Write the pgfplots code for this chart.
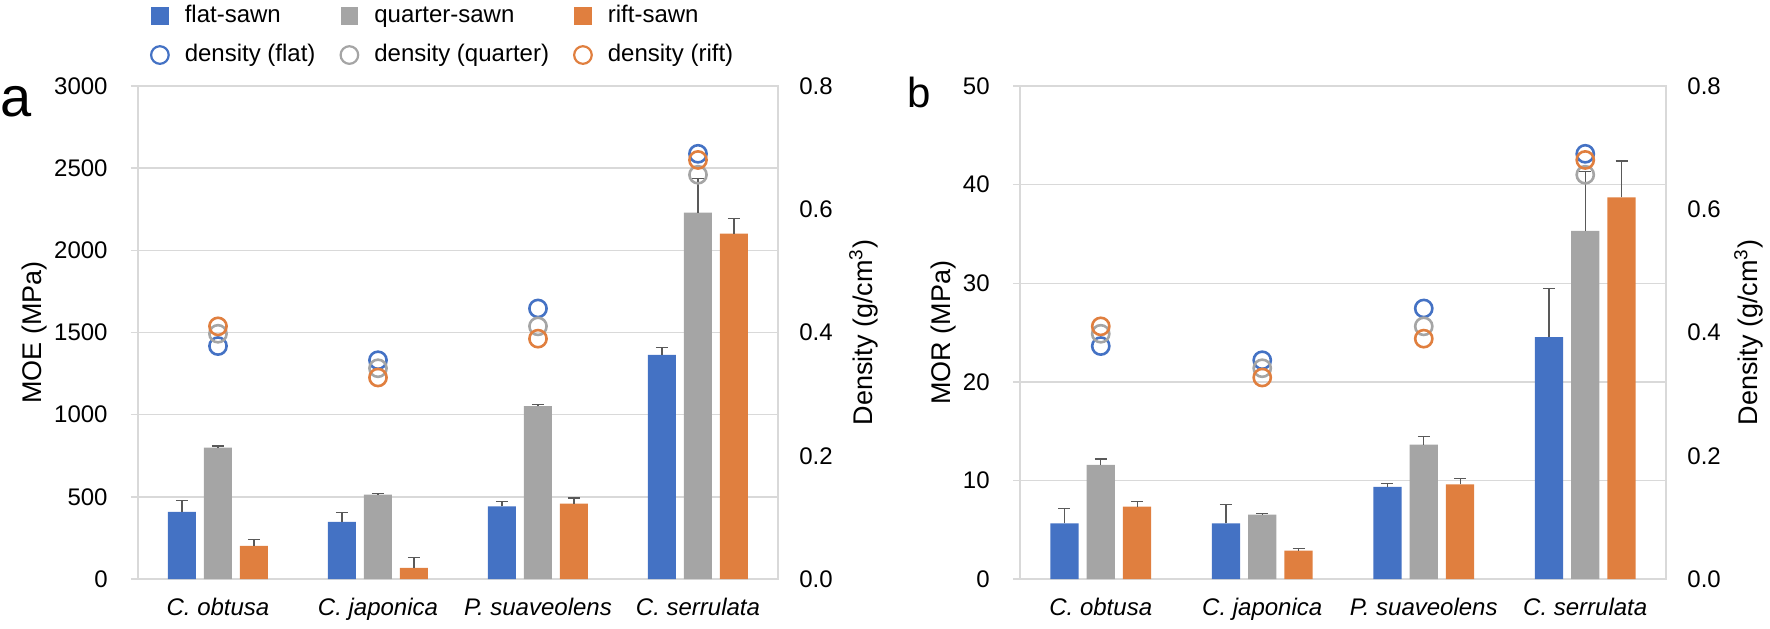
\documentclass[border=0pt]{standalone}
\usepackage{fontspec}
\setmainfont{Liberation Sans}
\usepackage{pgfplots}
\usepackage{pgfplotstable}
\pgfplotsset{compat=1.18}
\definecolor{cblue}{HTML}{4472C4}
\definecolor{cgray}{HTML}{A5A5A5}
\definecolor{corange}{HTML}{E07F3F}
\definecolor{gridc}{HTML}{D9D9D9}
\definecolor{errc}{HTML}{595959}

\pgfplotstableread{
x flat flatE quart quartE rift riftE
0 408 70 799 10 202 40
1 348 58 514 4 68 64
2 442 30 1052 10 459 34
3 1364 45 2229 210 2101 94
}\moe
\pgfplotstableread{
x flat flatE quart quartE rift riftE
0 5.63 1.5 11.58 0.6 7.33 0.5
1 5.63 1.95 6.52 0.1 2.87 0.2
2 9.35 0.3 13.63 0.8 9.60 0.6
3 24.54 4.9 35.30 6.0 38.70 3.7
}\mor
\pgfplotstableread{
x dflat dquart drift
0 0.378 0.398 0.410
1 0.355 0.342 0.327
2 0.439 0.410 0.390
3 0.690 0.656 0.680
}\dens

\pgfplotsset{
  base/.style={
    scale only axis, height=246.5pt,
    xmin=-0.5, xmax=3.5,
    /pgf/number format/assume math mode=true,
    /pgf/number format/1000 sep={},
    tick label style={font=\fontsize{12}{14}\selectfont},
    label style={font=\fontsize{13.5}{16}\selectfont},
  },
  leftax/.style={
    base, ybar, bar width=0.175, ymin=0,
    axis line style={draw=gridc, line width=0.7pt},
    ymajorgrids, grid style={draw=gridc, line width=0.7pt},
    xtick={0,1,2,3},
    xticklabels={\textit{C. obtusa},\textit{C. japonica},\textit{P. suaveolens},\textit{C. serrulata}},
    xtick align=inside, x tick style={draw=none},
    xticklabel style={anchor=north, inner sep=0pt, yshift=-9.5pt},
    ytick pos=left, ytick align=outside, major tick length=3.5pt,
    y tick style={draw=gridc, line width=0.7pt},
    yticklabel style={anchor=east, inner sep=0pt, xshift=-11.5pt},
    error bars/y dir=plus, error bars/y explicit,
    error bars/error bar style={errc, line width=0.6pt},
    error bars/error mark options={rotate=90, errc, mark size=3pt, line width=0.6pt},
  },
  rightax/.style={
    base, ymin=0, ymax=0.8, ytick={0,0.2,0.4,0.6,0.8},
    axis x line=none, axis y line*=right,
    y axis line style={draw=none}, y tick style={draw=none},
    yticklabel style={anchor=west, inner sep=0pt, xshift=10.5pt,
      /pgf/number format/fixed, /pgf/number format/fixed zerofill, /pgf/number format/precision=1},
    ylabel={Density (g/cm\textsuperscript{3})},
  },
  dmark/.style={only marks, mark=o, mark size=4.3pt, line width=1.3pt, #1, mark options={solid}},
}

\begin{document}
\begin{tikzpicture}
\path[use as bounding box] (-69pt,-24.5pt) rectangle (816pt,289.5pt);

% ---------------- panel a ----------------
\begin{axis}[leftax, at={(0pt,0pt)}, anchor=south west, width=320pt,
  ymax=3000, ytick={0,500,1000,1500,2000,2500,3000},
  ylabel={MOE (MPa)},
  ylabel style={at={(axis description cs:-0.161,0.5)}, anchor=center, rotate=0},
  legend columns=3,
  legend style={at={(rel axis cs:0.01875,1.1663)}, anchor=north west, draw=none, fill=none,
    inner sep=0pt, outer sep=0pt, font=\fontsize{12}{14}\selectfont,
    nodes={inner sep=0pt, text height=9pt, text depth=3pt},
    row sep=7.5pt},
  legend cell align=left,
  /tikz/every odd column/.append style={column sep=7.5pt},
  /tikz/every even column/.append style={column sep=12pt},
]
\addlegendimage{legend image code/.code={\fill[cblue] (0pt,-4.2pt) rectangle (8.4pt,4.2pt);}}
\addlegendentry{flat-sawn}
\addlegendimage{legend image code/.code={\fill[cgray] (0pt,-4.2pt) rectangle (8.4pt,4.2pt);}}
\addlegendentry{quarter-sawn}
\addlegendimage{legend image code/.code={\fill[corange] (0pt,-4.2pt) rectangle (8.4pt,4.2pt);}}
\addlegendentry{rift-sawn}
\addlegendimage{legend image code/.code={\draw[cblue, line width=1.1pt] (4.2pt,0pt) circle (4.4pt);}}
\addlegendentry{density (flat)}
\addlegendimage{legend image code/.code={\draw[cgray, line width=1.1pt] (4.2pt,0pt) circle (4.4pt);}}
\addlegendentry{density (quarter)}
\addlegendimage{legend image code/.code={\draw[corange, line width=1.1pt] (4.2pt,0pt) circle (4.4pt);}}
\addlegendentry{density (rift)}
\addplot[fill=cblue, draw=none, bar shift=-0.225, forget plot] table[x=x, y=flat, y error=flatE] {\moe};
\addplot[fill=cgray, draw=none, bar shift=0, forget plot] table[x=x, y=quart, y error=quartE] {\moe};
\addplot[fill=corange, draw=none, bar shift=0.225, forget plot] table[x=x, y=rift, y error=riftE] {\moe};
\end{axis}
\begin{axis}[rightax, at={(0pt,0pt)}, anchor=south west, width=320pt,
  ylabel style={at={(axis description cs:1.134,0.5)}, anchor=center, rotate=0},
]
\addplot[dmark=cblue] table[x=x, y=dflat] {\dens};
\addplot[dmark=cgray] table[x=x, y=dquart] {\dens};
\addplot[dmark=corange] table[x=x, y=drift] {\dens};
\end{axis}

% ---------------- panel b ----------------
\begin{axis}[leftax, at={(441pt,0pt)}, anchor=south west, width=323pt,
  ymax=50, ytick={0,10,20,30,40,50},
  ylabel={MOR (MPa)},
  ylabel style={at={(axis description cs:-0.119,0.5)}, anchor=center, rotate=0},
]
\addplot[fill=cblue, draw=none, bar shift=-0.225] table[x=x, y=flat, y error=flatE] {\mor};
\addplot[fill=cgray, draw=none, bar shift=0] table[x=x, y=quart, y error=quartE] {\mor};
\addplot[fill=corange, draw=none, bar shift=0.225] table[x=x, y=rift, y error=riftE] {\mor};
\end{axis}
\begin{axis}[rightax, at={(441pt,0pt)}, anchor=south west, width=323pt,
  ylabel style={at={(axis description cs:1.128,0.5)}, anchor=center, rotate=0},
]
\addplot[dmark=cblue] table[x=x, y=dflat] {\dens};
\addplot[dmark=cgray] table[x=x, y=dquart] {\dens};
\addplot[dmark=corange] table[x=x, y=drift] {\dens};
\end{axis}

\node[anchor=base west, inner sep=0pt, font=\fontsize{28}{30}\selectfont] at (-69pt,231pt) {a};
\node[anchor=base west, inner sep=0pt, font=\fontsize{21}{24}\selectfont] at (384.5pt,235.5pt) {b};
\end{tikzpicture}
\end{document}
